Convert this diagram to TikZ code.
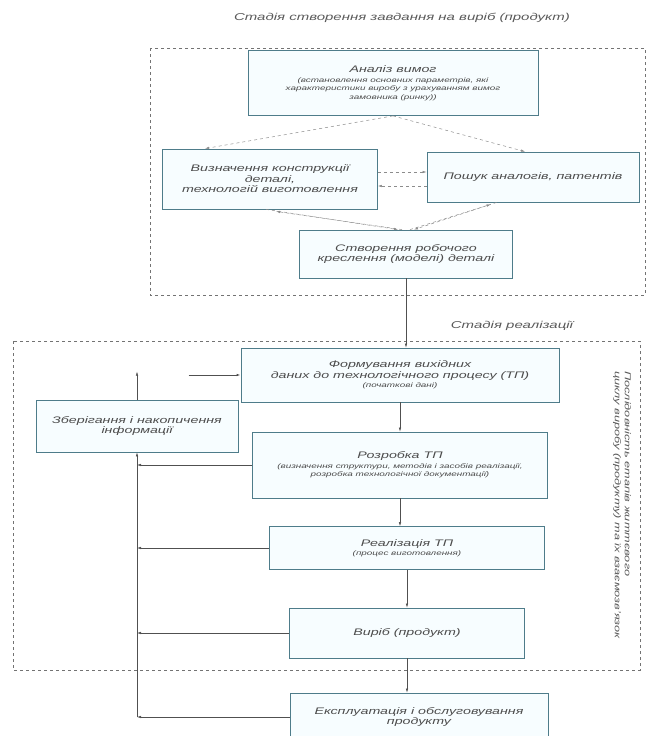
\documentclass[tikz,border=0pt]{standalone}
\usepackage{fontspec}
\setmainfont{Liberation Sans}[FakeStretch=1.5]
\usepackage{xcolor}
\definecolor{rama}{HTML}{4E7C8A}
\definecolor{liniya}{HTML}{505050}
\usetikzlibrary{positioning, arrows.meta, calc}
\newcommand{\drib}{\fontsize{6.6}{7.6}\selectfont}

\begin{document}
\begin{tikzpicture}[x=1pt, y=-1pt,
  blok/.style={rectangle, draw=rama, fill=cyan!3, line width=0.8pt, align=center, font=\fontsize{9.5}{10.5}\selectfont\itshape, text=black!70, inner sep=1pt},
  zv/.style={draw=liniya, line width=0.5pt, -{Latex[length=4pt,width=2.5pt]}},
  pun/.style={zv, dashed, draw=black!45},
  ramka/.style={draw=black!55, dashed, line width=0.6pt},
  nadp/.style={font=\fontsize{10}{11}\selectfont\itshape, text=black!65}
]
  \useasboundingbox (0,0) rectangle (648,736);

  % stage frames
  \draw[ramka] (150,48) rectangle (645,295);
  \draw[ramka] (13,341) rectangle (640,670);
  \node[nadp] (st1) at (402,18) {Стадія створення завдання на виріб (продукт)};
  \node[nadp] (st2) at (512,326) {Стадія реалізації};
  \node[nadp, rotate=-90, align=left, font=\fontsize{8.5}{10}\selectfont\itshape] (posl) at (622,505)
    {Послідовність етапів життєвого\\циклу виробу (продукту) та їх взаємозв’язок};

  % stage of the task
  \node[blok, minimum width=290, minimum height=65] (ana) at (393,83)
    {Аналіз вимог\\[-1pt]\drib (встановлення основних параметрів, які\\[-2pt] \drib характеристики виробу з урахуванням вимог\\[-2pt] \drib замовника (ринку))};
  \node[blok, minimum width=215, minimum height=60] (vyzn) at (270,179)
    {Визначення конструкції\\деталі,\\технологій виготовлення};
  \node[blok, minimum width=212, minimum height=50] (poshuk) at (533,177)
    {Пошук аналогів, патентів};
  \node[blok, minimum width=213, minimum height=48] (stvor) at (406,254)
    {Створення робочого\\креслення (моделі) деталі};

  % stage of realisation
  \node[blok, minimum width=318, minimum height=54] (form) at (400,375)
    {Формування вихідних\\даних до технологічного процесу (ТП)\\[-1pt]\drib (початкові дані)};
  \node[blok, minimum width=202, minimum height=52] (zber) at (137,426)
    {Зберігання і накопичення\\інформації};
  \node[blok, minimum width=295, minimum height=66] (rozr) at (400,465)
    {Розробка ТП\\[-1pt]\drib (визначення структури, методів і засобів реалізації,\\[-2pt] \drib розробка технологічної документації)};
  \node[blok, minimum width=275, minimum height=43] (real) at (407,548)
    {Реалізація ТП\\[-1pt]\drib (процес виготовлення)};
  \node[blok, minimum width=235, minimum height=50] (vyrib) at (407,633)
    {Виріб (продукт)};
  \node[blok, minimum width=258, minimum height=48] (ekspl) at (419,717)
    {Експлуатація і обслуговування\\продукту};

  % links inside the first stage
  \draw[pun] (ana.south) -- ($(vyzn.north)+(-65,0)$);
  \draw[pun] (ana.south) -- ($(poshuk.north)+(-8,0)$);
  \draw[pun] ($(vyzn.east)+(0,-7)$) -- ($(poshuk.west)+(0,-5)$);
  \draw[pun] ($(poshuk.west)+(0,9)$) -- ($(vyzn.east)+(0,7)$);
  \draw[pun] ([xshift=-4pt]vyzn.south) -- ([xshift=-8pt]stvor.north);
  \draw[pun] ([xshift=-4pt]stvor.north) -- ([xshift=6pt, yshift=-2pt]vyzn.south);
  \draw[pun] ([xshift=70pt]poshuk.south west) -- ([xshift=8pt]stvor.north);
  \draw[pun] ([xshift=4pt]stvor.north) -- ([xshift=64pt, yshift=-2pt]poshuk.south west);

  % main chain
  \draw[zv] (stvor.south) -- (stvor.south |- form.north);
  \draw[zv] (form.south) -- (rozr.north);
  \draw[zv] (rozr.south) -- (rozr.south |- real.north);
  \draw[zv] (real.south) -- (vyrib.north);
  \draw[zv] (vyrib.south) -- (vyrib.south |- ekspl.north);

  % feedback line
  \coordinate (niz) at (zber.south |- ekspl.west);
  \coordinate (verh) at ($(zber.north)+(0,-28)$);
  \coordinate (vhid) at ($(form.west)+(-52,0)$);
  \draw[zv] (niz) -- (zber.south);
  \draw[zv] (zber.north) -- (verh);
  \draw[zv, line width=0.9pt] (vhid) -- (form.west);
  \foreach \n in {rozr, real, vyrib, ekspl}
    \draw[zv] (\n.west) -- (\n.west -| zber.south);
\end{tikzpicture}
\end{document}
